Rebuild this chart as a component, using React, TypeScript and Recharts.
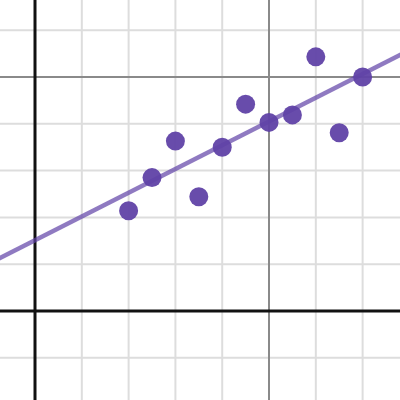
import { ReferenceLine, Scatter, ScatterChart, XAxis, YAxis } from "recharts";

const xs = [2, 2.5, 3, 3.5, 4, 4.5, 5, 5.5, 6, 6.5, 7];
const ys = [2.14, 2.85, 3.63, 2.44, 3.5, 4.42, 4.03, 4.19, 5.43, 3.81, 5.0];

// fitted line, read at both edges of the view
const fitX = [-1, 8];
const fitY = [1.005, 5.572];

const minorX = [1, 2, 3, 4, 6, 7];
const minorY = [-1, 1, 2, 3, 4, 6];
const majorX = [5];
const majorY = [5];

const xDomain = [-0.748, 7.799];
const yDomain = [-1.902, 6.645];

const points = xs.map((x, i) => ({ x, y: ys[i] }));

const PURPLE = "#6042a6";

export default function App() {
  return (
    <div style={{ width: 400, height: 400, background: "#fff" }}>
      <style>{`body{margin:0}`}</style>
      <ScatterChart width={400} height={400} margin={{ top: 0, right: 0, bottom: 0, left: 0 }}>
        <XAxis type="number" dataKey="x" domain={xDomain} allowDataOverflow hide />
        <YAxis type="number" dataKey="y" domain={yDomain} allowDataOverflow hide />
        {minorX.map((v) => (
          <ReferenceLine key={"mx" + v} x={v} stroke="#dddddd" strokeWidth={2} />
        ))}
        {minorY.map((v) => (
          <ReferenceLine key={"my" + v} y={v} stroke="#dddddd" strokeWidth={2} />
        ))}
        {majorX.map((v) => (
          <ReferenceLine key={"Mx" + v} x={v} stroke="#8a8a8a" strokeWidth={2} />
        ))}
        {majorY.map((v) => (
          <ReferenceLine key={"My" + v} y={v} stroke="#8a8a8a" strokeWidth={2} />
        ))}
        <ReferenceLine x={0} stroke="#111" strokeWidth={3} />
        <ReferenceLine y={0} stroke="#111" strokeWidth={3} />
        <ReferenceLine
          segment={[
            { x: fitX[0], y: fitY[0] },
            { x: fitX[1], y: fitY[1] },
          ]}
          ifOverflow="hidden"
          stroke={PURPLE}
          strokeOpacity={0.7}
          strokeWidth={4.5}
        />
        <Scatter
          data={points}
          isAnimationActive={false}
          shape={(p: any) => <circle cx={p.cx} cy={p.cy} r={9.5} fill={PURPLE} fillOpacity={0.95} />}
        />
      </ScatterChart>
    </div>
  );
}
